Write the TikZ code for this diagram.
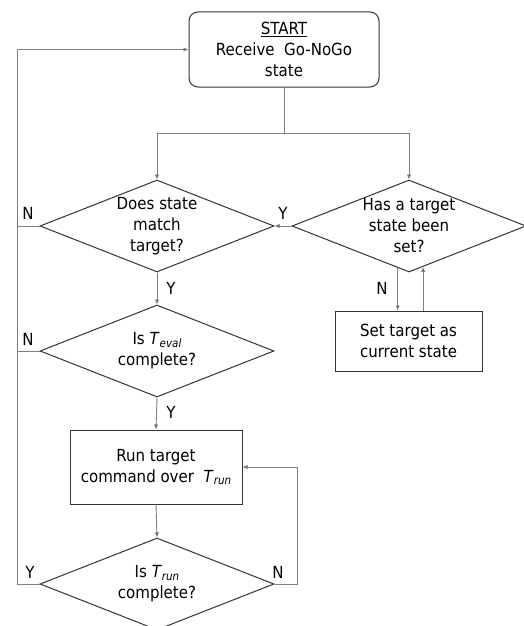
\documentclass[tikz,border=0pt]{standalone}
\usepackage{fontspec}
\setmainfont{DejaVu Sans Condensed}
\usetikzlibrary{shapes.geometric,arrows.meta,calc}
\newcommand{\Tsub}[1]{\textit{T}{\fontsize{11.5}{11.5}\selectfont\raisebox{-0.35ex}{\textit{#1}}}}
\begin{document}
\begin{tikzpicture}[x=1pt,y=-1pt,
  font=\fontsize{16.7}{21}\selectfont,
  shapeline/.style={draw=black!80,line width=1pt},
  dec/.style={shape=diamond,shapeline,minimum width=234pt,minimum height=92pt,inner sep=0pt,
     label={[align=center,inner sep=0pt]center:#1}},
  boxnode/.style={shape=rectangle,shapeline,align=center,inner sep=2pt},
  conn/.style={draw=black!50,line width=0.9pt},
  arr/.style={conn,-{Latex[length=5pt,width=4.5pt,fill=black!85]}},
  lbl/.style={inner sep=0pt}]
\useasboundingbox (0,0) rectangle (524,626);
\node[boxnode,rounded corners=9pt,minimum width=190pt,minimum height=75pt] (start) at (284,49.5) {\underline{START}\\Receive~ Go-NoGo\\state};
\node[dec={Does state\\match\\target?}] (d1) at (157,226) {};
\node[dec={Has a target\\state been\\set?}] (d2) at (409,226) {};
\node[boxnode,minimum width=147pt,minimum height=60pt] (settgt) at (408.5,341) {Set target as\\current state};
\node[dec={Is \Tsub{eval}\\complete?}] (d3) at (157,351) {};
\node[boxnode,minimum width=172pt,minimum height=74pt] (run) at (156,467) {Run target\\command over~ \Tsub{run}};
\node[dec={Is \Tsub{run}\\complete?}] (d4) at (157,584) {};

\coordinate (sp) at (284,133);
\coordinate (lb) at (17,584);
\coordinate (lt) at (17,49.5);
\coordinate (r1) at (297,584);

\draw[conn] (start.south) -- (sp);
\draw[arr] (sp) -| (d1.north);
\draw[arr] (sp) -| (d2.north);
\draw[arr] (d2.west) -- (d1.east);
\draw[arr] (d2.255) -- (d2.255 |- settgt.north);
\draw[arr] (d2.289 |- settgt.north) -- (d2.289);
\draw[arr] (d1.south) -- (d3.north);
\draw[arr] (d3.south) -- (run.north);
\draw[arr] (run.south) -- (d4.north);
\draw[arr] (d4.east) -- (r1) |- (run.east);
\draw[arr] (d4.west) -- (lb) -- (lt) -- (start.west);
\draw[conn] (d1.west) -- (d1.west -| lb);
\draw[conn] (d3.west) -- (d3.west -| lb);

\node[lbl] (n1) at (28,213) {N};
\node[lbl] (n2) at (28,339) {N};
\node[lbl] (y4) at (30,572) {Y};
\node[lbl] (n4) at (278,572) {N};
\node[lbl] (y2) at (283,213) {Y};
\node[lbl] (n3) at (382,288) {N};
\node[lbl] (y1) at (171,288) {Y};
\node[lbl] (y3) at (171,412) {Y};
\end{tikzpicture}
\end{document}
